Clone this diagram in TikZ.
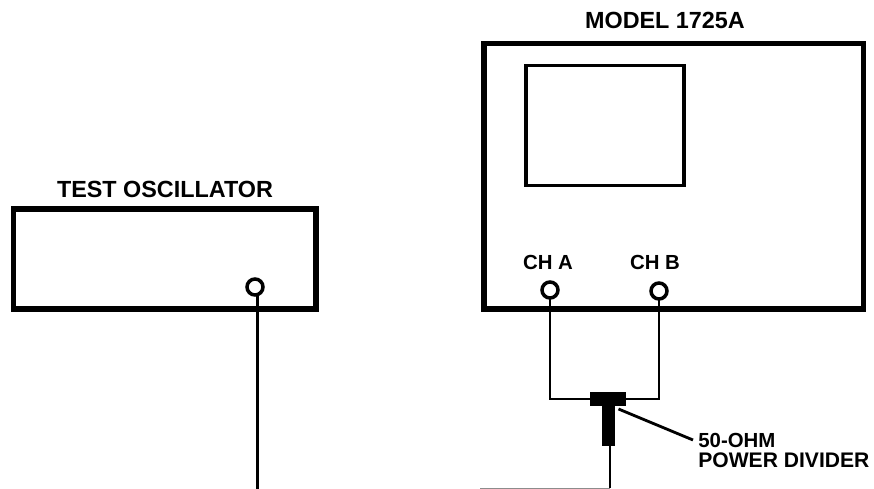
\documentclass[tikz,border=0pt]{standalone}
\usepackage{fontspec}
\setmainfont{Liberation Sans}
\usetikzlibrary{calc}
\tikzset{
  panel/.style={draw, line width=3.3pt, inner sep=0pt, outer sep=0pt, anchor=north west},
  screen/.style={draw, line width=2pt, inner sep=0pt, outer sep=0pt, anchor=north west},
  jack/.style={draw, circle, line width=2pt, fill=white, minimum size=0.32cm, inner sep=0pt, outer sep=0pt},
  wire/.style={line width=1.5pt},
  lbl/.style={font=\bfseries\fontsize{13.3}{15}\selectfont, inner sep=0pt},
  smalllbl/.style={font=\bfseries\fontsize{11.6}{13}\selectfont, inner sep=0pt},
  block/.style={fill=black, draw=none, inner sep=0pt, outer sep=0pt}
}
\begin{document}
\begin{tikzpicture}[x=1cm, y=1cm]
  \useasboundingbox (0,0) rectangle (17.48,9.78);
  % cajas
  \node[panel, minimum width=6.05cm, minimum height=2cm] (osc) at (0.27,5.6) {};
  \node[panel, minimum width=7.59cm, minimum height=5.31cm] (model) at (9.68,8.91) {};
  \node[screen, minimum width=3.16cm, minimum height=2.4cm] (scr) at (10.52,8.47) {};
  % rotulos
  \node[lbl] (osclbl) at (3.3,6) {TEST OSCILLATOR};
  \node[lbl] (modellbl) at (13.3,9.38) {MODEL 1725A};
  \node[smalllbl] (chalbl) at (10.96,4.54) {CH A};
  \node[smalllbl] (chblbl) at (13.1,4.54) {CH B};
  \node[smalllbl, anchor=west] (ohmlbl) at (13.96,0.98) {50-OHM};
  \node[smalllbl, anchor=west, font=\bfseries\fontsize{12}{13}\selectfont] (pwrlbl) at (13.96,0.58) {POWER DIVIDER};
  % conectores
  \node[jack] (oscjack) at (5.1,4.04) {};
  \node[jack] (cha) at (11,3.98) {};
  \node[jack] (chb) at (13.18,3.96) {};
  % divisor
  \node[block, minimum width=0.72cm, minimum height=0.28cm] (div) at (12.16,1.8) {};
  \node[block, minimum width=0.26cm, minimum height=0.82cm, anchor=north] (stem) at (12.17,1.68) {};
  \coordinate (oscend) at (5.15,0);
  \coordinate (divend) at (12.2,0.02);
  \coordinate (gapend) at (9.6,0.02);
  \coordinate (leader) at (13.86,0.98);
  % cables
  \draw[wire] (oscjack.south) ++(0.05,0) -- (oscend);
  \draw[wire] (cha) |- (div.west);
  \draw[wire] (chb) |- (div.east);
  \draw[wire] (stem.south) ++(0.03,0) -- (divend);
  \draw[black!45, line width=0.5pt] (divend) -- (gapend);
  \draw[line width=1.6pt] (stem.north east) ++(0.07,-0.08) -- (leader);
\end{tikzpicture}
\end{document}
